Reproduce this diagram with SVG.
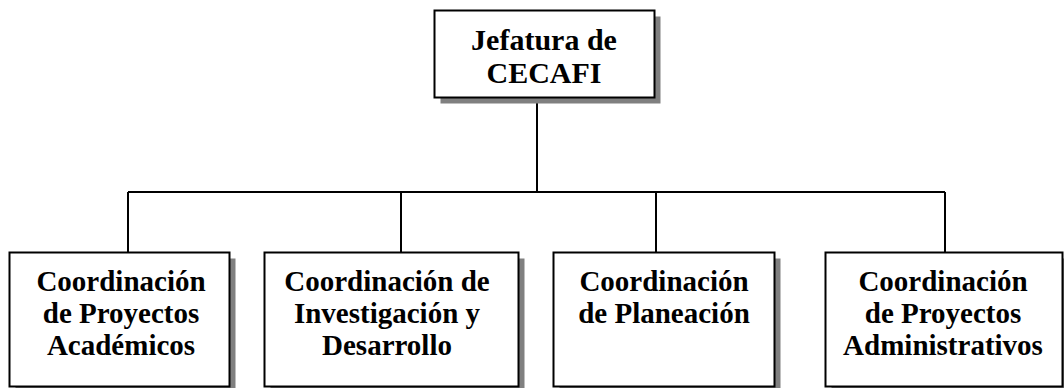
<svg xmlns="http://www.w3.org/2000/svg" width="1064" height="388" viewBox="0 0 1064 388">
<style>
.box{fill:#fff;stroke:#000;stroke-width:2}
.sh{fill:#808080;stroke:none}
.t{font-family:"Liberation Serif","Times New Roman",serif;font-weight:bold;fill:#000;text-anchor:middle}
.top{font-size:30px}
.sub{font-size:29px}
.con{stroke:#000;stroke-width:2;fill:none}
</style>
<rect width="1064" height="388" fill="#fff"/>
<g id="connectors">
<path class="con" d="M537 97 V192 M128 192 H945 M128 192 V252 M401 192 V252 M656 192 V252 M945 192 V252"/>
</g>
<g id="jefatura">
<rect class="sh" x="440.5" y="16.5" width="220" height="87"/>
<rect class="box" x="434.5" y="10.5" width="220" height="87"/>
<text class="t top" x="544" y="50">Jefatura de</text>
<text class="t top" x="544" y="83">CECAFI</text>
</g>
<g id="academicos">
<rect class="sh" x="15.5" y="258.5" width="220" height="134"/>
<rect class="box" x="9.5" y="252.5" width="220" height="134"/>
<text class="t sub" x="121" y="291">Coordinación</text>
<text class="t sub" x="121" y="323">de Proyectos</text>
<text class="t sub" x="121" y="355">Académicos</text>
</g>
<g id="investigacion">
<rect class="sh" x="270.5" y="258.5" width="254" height="134"/>
<rect class="box" x="264.5" y="252.5" width="254" height="134"/>
<text class="t sub" x="387" y="291">Coordinación de</text>
<text class="t sub" x="387" y="323">Investigación y</text>
<text class="t sub" x="387" y="355">Desarrollo</text>
</g>
<g id="planeacion">
<rect class="sh" x="559.5" y="258.5" width="221" height="134"/>
<rect class="box" x="553.5" y="252.5" width="221" height="134"/>
<text class="t sub" x="664" y="291">Coordinación</text>
<text class="t sub" x="664" y="323">de Planeación</text>
</g>
<g id="administrativos">
<rect class="sh" x="831.5" y="258.5" width="237" height="134"/>
<rect class="box" x="825.5" y="252.5" width="237" height="134"/>
<text class="t sub" x="943" y="291">Coordinación</text>
<text class="t sub" x="943" y="323">de Proyectos</text>
<text class="t sub" x="943" y="355">Administrativos</text>
</g>
</svg>
